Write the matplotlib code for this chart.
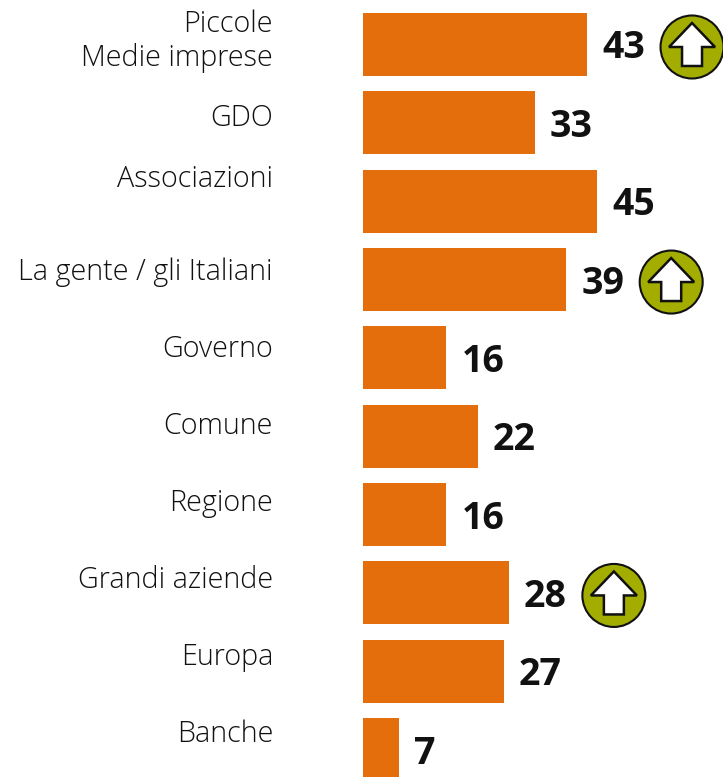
import matplotlib
matplotlib.use("Agg")
import matplotlib.pyplot as plt
from matplotlib.patches import Circle, Polygon

categories = ["Piccole\nMedie imprese", "GDO", "Associazioni", "La gente / gli Italiani",
              "Governo", "Comune", "Regione", "Grandi aziende", "Europa", "Banche"]
values = [43, 33, 45, 39, 16, 22, 16, 28, 27, 7]
arrows = [True, False, False, True, False, False, False, True, False, False]
# label centres in px, the labels are not evenly spaced in the original
label_y = [41, 118, 179, 272, 349, 426, 503, 580, 657, 734]

W, H = 723, 777
BAR_COLOR = "#E56E0C"
plt.rcParams["font.family"] = ["Open Sans", "DejaVu Sans"]

fig = plt.figure(figsize=(W / 100, H / 100), dpi=100)
ax = fig.add_axes([0, 0, 1, 1])
ax.set_xlim(0, W)
ax.set_ylim(H, 0)
ax.axis("off")

x0 = 363
scale = 5.21
pitch = 78.35
for i, (cat, val, up) in enumerate(zip(categories, values, arrows)):
    top = 13 + i * pitch
    w = val * scale
    ax.barh(top + 31.5, w, height=63, left=x0, color=BAR_COLOR)
    ax.text(273, label_y[i], cat, ha="right", va="center", fontsize=20.7, fontweight="light",
            color="#111111", linespacing=1.16)
    ax.text(x0 + w + 15, top + 31, str(val), ha="left", va="center_baseline", fontsize=27,
            fontweight="bold", color="#111111")
    if up:
        cx = x0 + w + 105
        cy = top + 34
        ax.add_patch(Circle((cx, cy), 31.5, facecolor="#A3AD00", edgecolor="#111111", lw=1.5))
        ax.add_patch(Polygon([(cx, cy - 24), (cx + 23, cy), (cx + 10, cy), (cx + 10, cy + 19),
                              (cx - 10, cy + 19), (cx - 10, cy), (cx - 23, cy)],
                             facecolor="white", edgecolor="#111111", lw=1.8, joinstyle="miter"))

fig.savefig("out.png", dpi=100)
